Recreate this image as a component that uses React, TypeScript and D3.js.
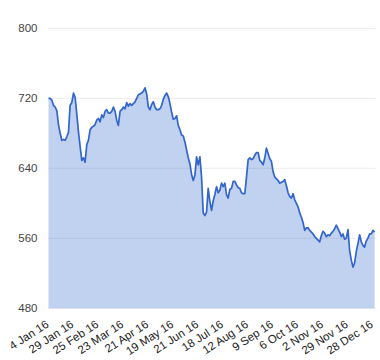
import React from "react";
import * as d3 from "d3";

// closing prices (roughly one point every 1.66px)
const prices = [
  720, 720, 718, 712, 710, 706, 690, 680, 672, 673,
  672, 676, 681, 712, 715, 726, 721, 702, 682, 665,
  649, 652, 647, 667, 672, 684, 687, 688, 690, 695,
  697, 693, 701, 698, 705, 707, 703, 703, 705, 710,
  705, 695, 689, 705, 707, 710, 708, 715, 711, 714,
  712, 714, 716, 720, 724, 725, 726, 728, 732, 725,
  710, 707, 713, 716, 710, 707, 707, 708, 712, 719,
  723, 726, 722, 714, 704, 696, 697, 700, 689, 684,
  678, 677, 670, 661, 652, 645, 633, 626, 632, 653,
  644, 653, 630, 589, 586, 590, 617, 602, 592, 603,
  610, 619, 612, 615, 623, 619, 623, 610, 606, 616,
  617, 625, 625, 621, 618, 617, 612, 611, 611, 630,
  650, 652, 650, 651, 655, 658, 658, 649, 647, 644,
  652, 663, 657, 651, 648, 636, 630, 628, 626, 623,
  624, 625, 627, 620, 612, 608, 606, 611, 604, 600,
  596, 589, 584, 578, 569, 572, 572, 569, 567, 565,
  562, 560, 558, 556, 563, 568, 566, 562, 564, 563,
  566, 568, 571, 575, 571, 567, 562, 565, 559, 560,
  570, 546, 535, 527, 532, 545, 554, 564, 556, 552,
  550, 557, 560, 565, 565, 569, 567,
];

const dateLabels = [
  "4 Jan 16", "29 Jan 16", "25 Feb 16", "23 Mar 16", "21 Apr 16",
  "19 May 16", "21 Jun 16", "18 Jul 16", "12 Aug 16", "9 Sep 16",
  "6 Oct 16", "2 Nov 16", "29 Nov 16", "28 Dec 16",
];
const labelEvery = 15;

const yTicks = [480, 560, 640, 720, 800];

const width = 380;
const height = 360;
const left = 48.5;
const right = 374.6;
const top = 28.3;
const bottom = 308.3;

export default function App() {
  const x = d3.scaleLinear().domain([0, prices.length - 1]).range([left, right]);
  const y = d3.scaleLinear().domain([480, 800]).range([bottom, top]);

  const area = d3
    .area<number>()
    .x((d, i) => x(i))
    .y0(y(480))
    .y1((d) => y(d));
  const line = d3
    .line<number>()
    .x((d, i) => x(i))
    .y((d) => y(d));

  return (
    <svg
      width={width}
      height={height}
      style={{ position: "absolute", left: 0, top: 0 }}
      fontFamily="Arial, 'Liberation Sans', sans-serif"
    >
      <rect width={width} height={height} fill="#fff" />
      {yTicks.map((t) => (
        <g key={t}>
          <line x1={left - 0.5} x2={right + 1} y1={y(t)} y2={y(t)} stroke="#ebebeb" strokeWidth={1} />
          <text x={37.5} y={y(t)} dy="0.35em" textAnchor="end" fontSize={11.5} fill="#444">
            {t}
          </text>
        </g>
      ))}
      <path d={area(prices) ?? ""} fill="#3366cc" fillOpacity={0.3} />
      <path d={line(prices) ?? ""} fill="none" stroke="#3366cc" strokeWidth={1.7} strokeLinejoin="round" />
      {dateLabels.map((lab, i) => (
        <text
          key={lab}
          transform={`translate(${x(i * labelEvery) + 1},${bottom + 18}) rotate(-33)`}
          textAnchor="end"
          fontSize={11.5}
          fill="#222"
        >
          {lab}
        </text>
      ))}
    </svg>
  );
}
